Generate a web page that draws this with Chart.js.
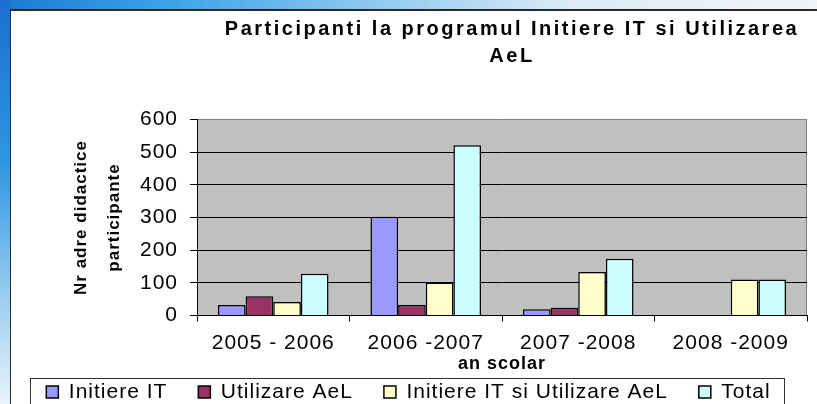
<!DOCTYPE html>
<html><head><meta charset="utf-8">
<script src="https://cdn.jsdelivr.net/npm/chart.js@4"></script>
<style>
html,body{margin:0;padding:0;width:817px;height:404px;overflow:hidden;}
body{position:relative;background:linear-gradient(to right,#1b78d0 0%,#3aa2e6 20%,#8cc8ef 45%,#dcebf5 70%,#f2f4f6 100%);}
#strip{position:absolute;left:0;top:0;width:10px;height:404px;background:linear-gradient(to bottom,#1a6fd0 0%,#2f95e0 40%,#9fd0f0 75%,#e9f3fa 100%);}
#panel{position:absolute;left:10px;top:9px;right:0;bottom:0;background:#fff;border-left:1px solid #2a2a2a;border-top:2px solid #2a2a2a;}
canvas{position:absolute;left:0;top:0;}
</style></head><body>
<div id="strip"></div><div id="panel"></div>
<canvas id="c" width="817" height="404"></canvas>
<script>
// ---- data ----
const categories = ['2005 - 2006', '2006 -2007', '2007 -2008', '2008 -2009'];
const initiereIT = [32, 302, 19, null];
const utilizareAeL = [59, 32, 24, null];
const initiereSiUtilizare = [41, 101, 133, 110];
const totalValues = [128, 521, 174, 110];
const seriesNames = ['Initiere IT', 'Utilizare AeL', 'Initiere IT si Utilizare AeL', 'Total'];
const titleLines = ['Participanti la programul Initiere IT si Utilizarea', 'AeL'];
const yTitleLines = ['Nr adre didactice', 'participante'];
const xTitle = 'an scolar';

const FONT = "'Liberation Sans', Arial, sans-serif";
Chart.defaults.font.family = FONT;
Chart.defaults.color = '#000';

const spacingPlugin = {
  id: 'spacing',
  beforeUpdate(chart) { chart.ctx.letterSpacing = '1px'; },
  beforeDraw(chart) { chart.ctx.letterSpacing = '1px'; }
};

const plotBgPlugin = {
  id: 'plotBg',
  beforeDraw(chart) {
    const {ctx, chartArea: a} = chart;
    ctx.save();
    ctx.fillStyle = '#C0C0C0';
    ctx.fillRect(a.left, a.top, a.right - a.left, a.bottom - a.top);
    ctx.strokeStyle = '#808080';
    ctx.lineWidth = 1;
    ctx.beginPath();
    ctx.moveTo(Math.round(a.right) - 0.5, a.top);
    ctx.lineTo(Math.round(a.right) - 0.5, a.bottom);
    ctx.stroke();
    ctx.restore();
  }
};

const titlePlugin = {
  id: 'customTitle',
  afterDraw(chart) {
    const {ctx, chartArea: a} = chart;
    ctx.save();
    ctx.letterSpacing = '2.5px';
    ctx.font = 'bold 20px ' + FONT;
    ctx.fillStyle = '#000';
    ctx.textAlign = 'center';
    ctx.textBaseline = 'middle';
    const cx = (a.left + a.right) / 2 + 10;
    titleLines.forEach((t, i) => ctx.fillText(t, cx, a.top - 90 + i * 27));
    ctx.restore();
  }
};

const legendBoxPlugin = {
  id: 'legendBox',
  afterDraw(chart) {
    const hb = chart.legend && chart.legend.legendHitBoxes;
    if (!hb || !hb.length) return;
    const {ctx} = chart;
    const first = hb[0], last = hb[hb.length - 1];
    const left = Math.round(first.left - 16) + 0.5;
    const right = Math.min(Math.round(last.left + last.width + 13), 813) + 0.5;
    const top = Math.round(first.top + first.height / 2 - 14) + 0.5;
    ctx.save();
    ctx.strokeStyle = '#333';
    ctx.lineWidth = 1;
    ctx.strokeRect(left, top, right - left, 420 - top);
    ctx.restore();
  }
};

const P = 31;
new Chart(document.getElementById('c'), {
  type: 'bar',
  data: {
    labels: categories,
    datasets: [
      {label: seriesNames[0], data: initiereIT, backgroundColor: '#9999FF'},
      {label: seriesNames[1], data: utilizareAeL, backgroundColor: '#993366'},
      {label: seriesNames[2], data: initiereSiUtilizare, backgroundColor: '#FFFFCC'},
      {label: seriesNames[3], data: totalValues, backgroundColor: '#CCFFFF'}
    ].map(d => Object.assign(d, {borderColor: '#000', borderWidth: 1.5, categoryPercentage: 0.725, barPercentage: 1}))
  },
  options: {
    responsive: false,
    animation: false,
    devicePixelRatio: 1,
    layout: {padding: {top: 119.5, left: 10, right: 10, bottom: -8.5}},
    plugins: {
      title: {display: false},
      tooltip: {enabled: false},
      legend: {
        position: 'bottom',
        labels: {boxWidth: 12, boxHeight: 12, padding: P, font: {size: 21}, color: '#000'}
      }
    },
    scales: {
      x: {
        grid: {display: true, drawOnChartArea: false, tickLength: 6, color: '#000'},
        border: {color: '#000', width: 1},
        ticks: {font: {size: 21}, color: '#000', padding: 9, maxRotation: 0, autoSkip: false},
        title: {display: true, text: xTitle, font: {size: 18, weight: 'bold', lineHeight: 1.2}, color: '#000', padding: {top: 0, bottom: -24.3}},
        afterFit(s) { s.height = 35; }
      },
      y: {
        min: 0, max: 600,
        grid: {color: (c) => (c.tick && c.tick.value === 600 ? '#808080' : '#000'), tickColor: '#000', tickLength: 7, lineWidth: 1},
        border: {color: '#000', width: 1},
        ticks: {stepSize: 100, font: {size: 21}, color: '#000', padding: 12},
        title: {display: true, text: yTitleLines, font: {size: 17, weight: 'bold', lineHeight: 1.95}, color: '#000', padding: {top: 55, bottom: 0}},
        afterFit(s) { s.width = 187; }
      }
    }
  },
  plugins: [spacingPlugin, plotBgPlugin, titlePlugin, legendBoxPlugin]
});
</script>
</body></html>
